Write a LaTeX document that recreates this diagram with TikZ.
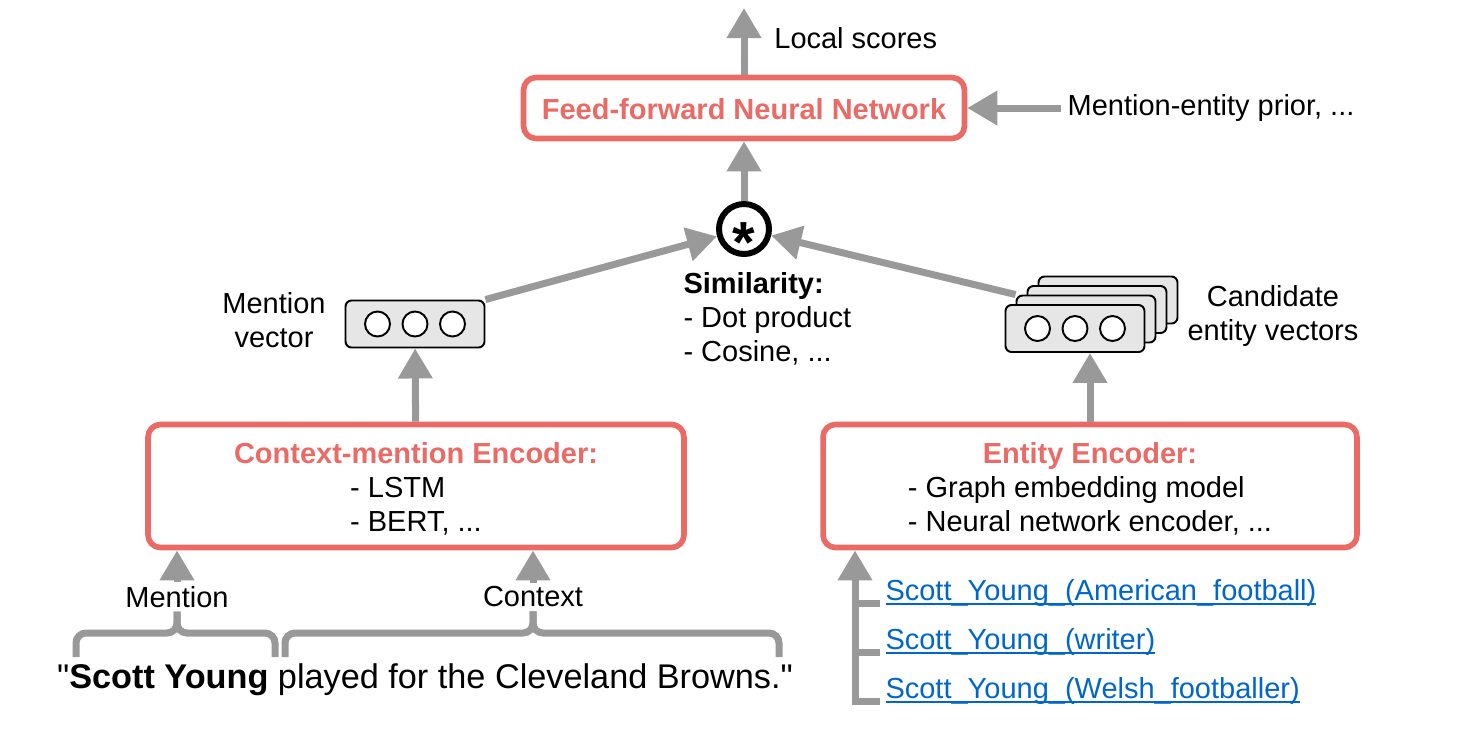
\documentclass[tikz,border=0pt]{standalone}
\usepackage{fontspec}
\setmainfont{Liberation Sans}[Ligatures=TeXOff]
\usetikzlibrary{arrows.meta,positioning,backgrounds}
\definecolor{boxred}{HTML}{EA6B66}
\definecolor{arrowgray}{HTML}{999999}
\definecolor{vecgray}{HTML}{E6E6E6}
\definecolor{linkblue}{HTML}{0066CC}
\newcommand\boxtitle[1]{\textcolor{boxred}{\bfseries #1}}
\newcommand\wikilink[1]{\setbox0\hbox{#1}\rlap{\rule[-2.6pt]{\wd0}{1.1pt}}\box0}

\begin{document}
\begin{tikzpicture}[x=0.02cm, y=-0.02cm, semithick,
  font=\fontsize{16.5}{19.3}\selectfont,
  >={Triangle[length=0.6cm,width=0.66cm]},
  flow/.style={->, draw=arrowgray, line width=0.14cm},
  rail/.style={draw=arrowgray, line width=0.14cm},
  brace/.style={rail, rounded corners=0.2cm},
  redbox/.style={draw=boxred, line width=3.2pt, rounded corners=0.25cm, align=center},
  vecbox/.style={draw, fill=vecgray, line width=1.1pt, rounded corners=0.12cm,
    minimum width=2.78cm, minimum height=0.94cm},
  wiki/.style={text=linkblue, inner sep=0pt, anchor=base west}]
  \useasboundingbox (0,0) rectangle (1474,738);

  % scoring part
  \node [redbox, minimum width=8.82cm, minimum height=1.22cm] (ffnn) at (744,108)
    {\boxtitle{Feed-forward Neural Network}\rule{0pt}{13pt}};
  \node (prior) [right=1.88cm of ffnn] {Mention-entity prior, ...};
  \coordinate (out) at (744,8);
  \node [anchor=west] (score) at (768,38) {Local scores};
  \node [circle, draw, line width=3.4pt, minimum size=1cm, inner sep=0pt] (sim) at (744,229)
    {\fontsize{33}{33}\selectfont\bfseries\raisebox{-0.58em}[0pt][0pt]{*}};
  \node [anchor=west, align=left, inner sep=0pt] (simtxt) at (683,319)
    {\textbf{Similarity:}\\- Dot product\\- Cosine, ...};

  % vectors
  \node [vecbox] (mv) at (415,324) {};
  \node [align=center] (mvtxt) at (274,320) {Mention\\vector};
  \foreach \k in {3,2,1}
    \node [vecbox] (cv\k) at (1075+11*\k, 328.5-9.5*\k) {};
  \node [vecbox] (cv0) at (1075,328.5) {};
  \foreach \d in {-1,0,1} {
    \draw [fill=white, line width=1.1pt] ([xshift=\d*0.75cm]mv.center) circle (0.25cm);
    \draw [fill=white, line width=1.1pt] ([xshift=\d*0.75cm]cv0.center) circle (0.25cm);
  }
  \node [align=center] (cvtxt) at (1273,316) {Candidate\\entity vectors};

  % encoders
  \node [redbox, minimum width=10.72cm, minimum height=2.32cm] (cme) at (416,486)
    {\boxtitle{Context-mention Encoder:}\rule{0pt}{19pt}\\\begin{tabular}[t]{@{}l@{}}- LSTM\\- BERT, ...\end{tabular}};
  \node [redbox, minimum width=10.68cm, minimum height=2.32cm] (ee) at (1090,486)
    {\boxtitle{Entity Encoder:}\rule{0pt}{19pt}\\\begin{tabular}[t]{@{}l@{}}- Graph embedding model\\- Neural network encoder, ...\end{tabular}};

  % inputs
  \node [inner sep=2pt] (mlab) at (177,597) {Mention};
  \node [inner sep=2pt] (clab) at (533,597) {Context};
  \node (sent) at (425,680)
    {\fontsize{19.5}{23}\selectfont "\textbf{Scott Young} played for the Cleveland Browns."};
  \node [wiki] (l1) at (885,600) {\wikilink{Scott\_Young\_(American\_football)}};
  \node [wiki] (l2) at (885,649) {\wikilink{Scott\_Young\_(writer)}};
  \node [wiki] (l3) at (885,698) {\wikilink{Scott\_Young\_(Welsh\_footballer)}};
  \coordinate (t1) at ([xshift=-0.1cm, yshift=-2pt]l1.base west);
  \coordinate (t2) at ([xshift=-0.1cm, yshift=-2pt]l2.base west);
  \coordinate (t3) at ([xshift=-0.1cm, yshift=-2pt]l3.base west);
  \coordinate (lk) at (855,700);

  \path
  (ffnn.north) edge [flow] (out)
  (prior) edge [flow] (ffnn)
  (sim) edge [flow] (ffnn)
  (cme) edge [flow] (mv)
  (ee.north) edge [flow] (ee.north |- cv0.south)
  (mlab.north) edge [flow] (mlab.north |- cme.south)
  (clab.north) edge [flow] (clab.north |- cme.south)
  ;
  \draw [flow] (t3) -- (t3 -| lk) -- (lk |- ee.south);
  \draw [rail] (t1) -- (t1 -| lk);
  \draw [rail] (t2) -- (t2 -| lk);

  \draw [brace] (76,657) |- (mlab.south |- 0,633) -- (mlab.south);
  \draw [brace] (275,657) |- (mlab.south |- 0,633) -- (mlab.south);
  \draw [brace] (285,657) |- (clab.south |- 0,633) -- (clab.south);
  \draw [brace] (779,657) |- (clab.south |- 0,633) -- (clab.south);

  \begin{scope}[on background layer]
    \path
    (mv.north east) edge [flow] (sim)
    (cv1.north west) edge [flow] (sim);
  \end{scope}
\end{tikzpicture}
\end{document}
